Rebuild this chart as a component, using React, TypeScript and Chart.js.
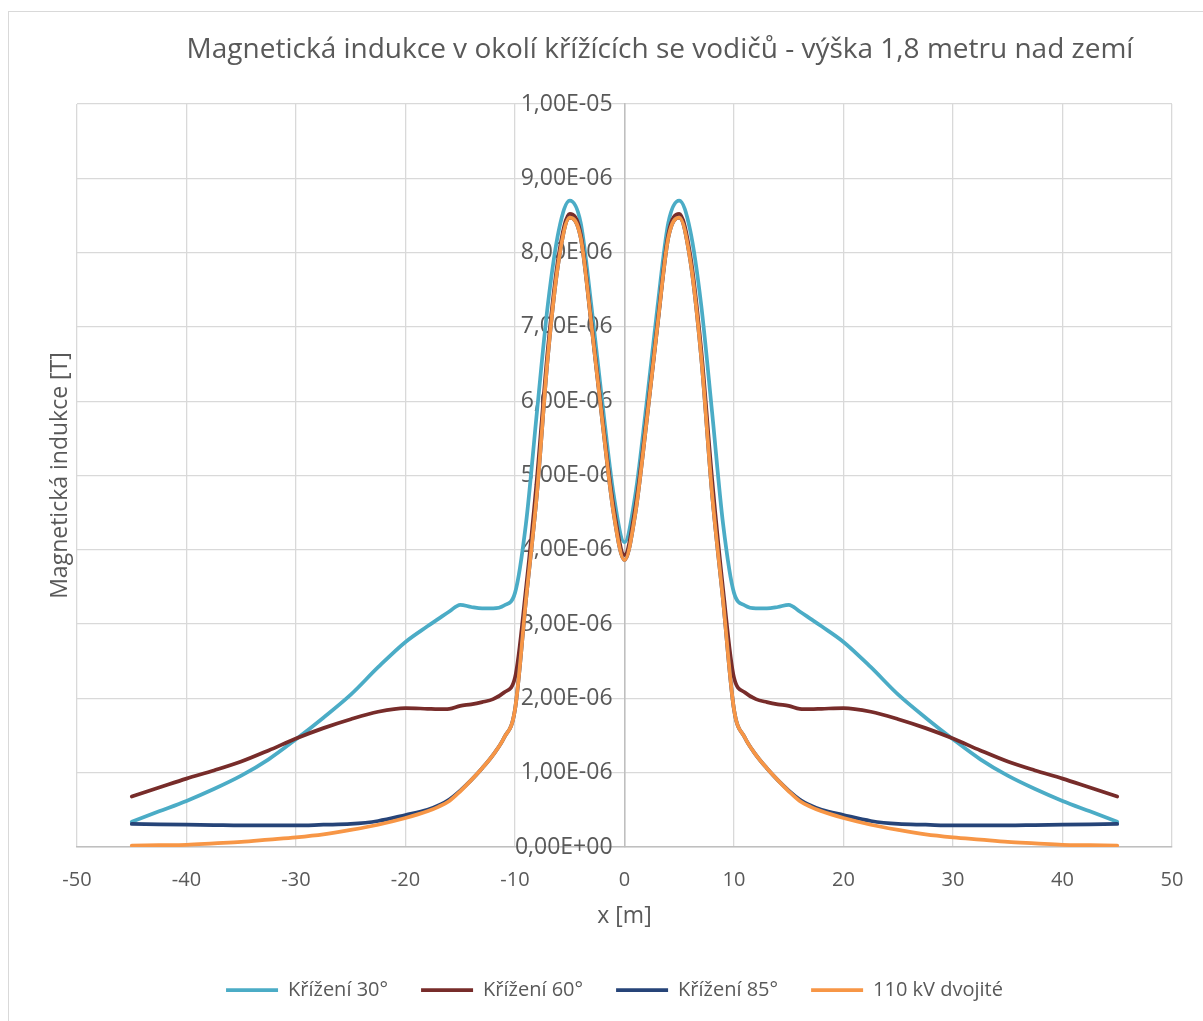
import { useEffect, useRef } from "react";
import { Chart, registerables } from "chart.js";

Chart.register(...registerables);

const TITLE = "Magnetická indukce v okolí křížících se vodičů - výška 1,8 metru nad zemí";
const X_TITLE = "x [m]";
const Y_TITLE = "Magnetická indukce [T]";
const SERIES = ["Křížení 30°", "Křížení 60°", "Křížení 85°", "110 kV dvojité"];
const COLORS = ["#4BACC6", "#772C2A", "#264478", "#F79646"];

// distance from the axis of the crossing [m]
const X_M = [
  -45, -42.5, -40, -37.5, -35, -32.5, -30, -27.5, -25, -22.5, -20, -18, -17, -16, -15, -14, -13, -12, -11, -10,
  -9, -8, -7, -6, -5, -4, -3, -2, -1, 0, 1, 2, 3, 4, 5, 6, 7, 8, 9,
  10, 11, 12, 13, 14, 15, 16, 17, 18, 20, 22.5, 25, 27.5, 30, 32.5, 35, 37.5, 40, 42.5, 45,
];

// magnetic flux density [µT]
const B_30 = [
  0.34, 0.48, 0.62, 0.78, 0.96, 1.18, 1.45, 1.74, 2.05, 2.42, 2.76, 2.97, 3.07, 3.17, 3.26, 3.23, 3.21, 3.21, 3.25, 3.42,
  4.35, 5.85, 7.3, 8.3, 8.7, 8.4, 7.25, 5.95, 4.75, 4.1, 4.75, 5.95, 7.25, 8.4, 8.7, 8.3, 7.3, 5.85, 4.35,
  3.42, 3.25, 3.21, 3.21, 3.23, 3.26, 3.17, 3.07, 2.97, 2.76, 2.42, 2.05, 1.74, 1.45, 1.18, 0.96, 0.78, 0.62, 0.48, 0.34,
];
const B_60 = [
  0.68, 0.8, 0.92, 1.03, 1.15, 1.3, 1.46, 1.6, 1.72, 1.82, 1.87, 1.86, 1.855, 1.86, 1.9, 1.92, 1.95, 1.99, 2.08, 2.28,
  3.47, 4.95, 6.7, 7.97, 8.52, 8.25, 7.03, 5.75, 4.58, 3.93, 4.58, 5.75, 7.03, 8.25, 8.52, 7.97, 6.7, 4.95, 3.47,
  2.28, 2.08, 1.99, 1.95, 1.92, 1.9, 1.86, 1.855, 1.86, 1.87, 1.82, 1.72, 1.6, 1.46, 1.3, 1.15, 1.03, 0.92, 0.8, 0.68,
];
const B_85 = [
  0.31, 0.305, 0.3, 0.295, 0.29, 0.29, 0.29, 0.3, 0.31, 0.35, 0.43, 0.5, 0.56, 0.64, 0.76, 0.9, 1.06, 1.24, 1.47, 1.85,
  3.32, 4.75, 6.6, 7.9, 8.47, 8.2, 7.0, 5.7, 4.5, 3.86, 4.5, 5.7, 7.0, 8.2, 8.47, 7.9, 6.6, 4.75, 3.32,
  1.85, 1.47, 1.24, 1.06, 0.9, 0.76, 0.64, 0.56, 0.5, 0.43, 0.35, 0.31, 0.3, 0.29, 0.29, 0.29, 0.295, 0.3, 0.305, 0.31,
];
const B_110 = [
  0.02, 0.025, 0.03, 0.05, 0.07, 0.1, 0.13, 0.17, 0.23, 0.3, 0.39, 0.48, 0.54, 0.62, 0.75, 0.9, 1.06, 1.24, 1.47, 1.85,
  3.32, 4.75, 6.6, 7.9, 8.47, 8.2, 7.0, 5.7, 4.5, 3.86, 4.5, 5.7, 7.0, 8.2, 8.47, 7.9, 6.6, 4.75, 3.32,
  1.85, 1.47, 1.24, 1.06, 0.9, 0.75, 0.62, 0.54, 0.48, 0.39, 0.3, 0.23, 0.17, 0.13, 0.1, 0.07, 0.05, 0.03, 0.025, 0.02,
];
const SERIES_VALUES = [B_30, B_60, B_85, B_110];

const MICRO = 1e-6;
const X_MIN = -50;
const X_MAX = 50;
const X_STEP = 10;
const Y_MIN = 0;
const Y_MAX = 10 * MICRO;
const Y_STEP = MICRO;

const FONT = "'Open Sans', 'DejaVu Sans', sans-serif";
const TEXT = "#595959";
const GRID = "#d9d9d9";
const AXIS = "#bfbfbf";

// Excel-style scientific notation with a decimal comma, e.g. 1,00E-05
const sci = (v: number) => {
  const [m, e] = v.toExponential(2).split("e");
  const n = parseInt(e, 10);
  return `${m.replace(".", ",")}E${n < 0 ? "-" : "+"}${String(Math.abs(n)).padStart(2, "0")}`;
};

// nudges the legend row so it sits where the sheet legend sits
const legendOffset = {
  id: "legendOffset",
  afterLayout(chart: any) {
    const lg = chart.legend;
    if (lg) {
      lg.left -= 10;
      lg.right -= 10;
    }
  },
};

export default function App() {
  const ref = useRef<HTMLCanvasElement | null>(null);

  useEffect(() => {
    if (!ref.current) return;
    const chart = new Chart(ref.current, {
      type: "line",
      data: {
        datasets: SERIES.map((label, i) => ({
          label,
          data: X_M.map((x, k) => ({ x, y: SERIES_VALUES[i][k] * MICRO })),
          borderColor: COLORS[i],
          backgroundColor: COLORS[i],
          borderWidth: 3.75,
          borderCapStyle: "round" as const,
          borderJoinStyle: "round" as const,
          pointRadius: 0,
          pointHoverRadius: 0,
          pointStyle: "line" as const,
          cubicInterpolationMode: "monotone" as const,
          fill: false,
          order: SERIES.length - i,
        })),
      },
      options: {
        animation: false,
        responsive: false,
        devicePixelRatio: 1,
        events: [],
        layout: { padding: { left: 0, right: 0, top: 0, bottom: 11 } },
        plugins: {
          title: {
            display: true,
            text: TITLE,
            color: TEXT,
            font: { family: FONT, size: 28, weight: "normal" },
            padding: { top: 21, bottom: 37.4 },
          },
          legend: {
            position: "bottom",
            fullSize: false,
            labels: {
              usePointStyle: true,
              pointStyleWidth: 52,
              padding: 33,
              color: TEXT,
              font: { family: FONT, size: 20 },
              sort: (a: any, b: any) => a.datasetIndex - b.datasetIndex,
            },
          },
          tooltip: { enabled: false },
        },
        scales: {
          x: {
            type: "linear",
            position: "bottom",
            min: X_MIN,
            max: X_MAX,
            ticks: { stepSize: X_STEP, padding: 21, color: TEXT, font: { family: FONT, size: 20 } },
            grid: { color: GRID, lineWidth: 1.3, drawTicks: false },
            border: { color: AXIS, width: 1.5 },
            title: {
              display: true,
              text: X_TITLE,
              color: TEXT,
              font: { family: FONT, size: 23 },
              padding: { top: 0, bottom: 17 },
            },
            afterFit: (s: any) => {
              s.height = 100;
            },
          },
          y: {
            type: "linear",
            position: { x: 0 },
            min: Y_MIN,
            max: Y_MAX,
            ticks: {
              stepSize: Y_STEP,
              color: TEXT,
              font: { family: FONT, size: 23 },
              // the trailing gap keeps the labels clear of the axis line
              callback: (v: any) => sci(Number(v)) + "  ",
            },
            grid: { color: GRID, lineWidth: 1.3, drawTicks: false },
            border: { color: AXIS, width: 1.5 },
          },
          yTitle: {
            type: "linear",
            position: "left",
            min: Y_MIN,
            max: Y_MAX,
            ticks: { display: false },
            grid: { display: false, drawTicks: false },
            border: { display: false },
            title: {
              display: true,
              text: Y_TITLE,
              color: TEXT,
              font: { family: FONT, size: 23 },
              padding: { top: 38, bottom: 2 },
            },
            afterFit: (s: any) => {
              s.width = 68;
            },
          },
          yRight: {
            type: "linear",
            position: "right",
            min: Y_MIN,
            max: Y_MAX,
            ticks: { display: false },
            grid: { display: false, drawTicks: false },
            border: { display: false },
            afterFit: (s: any) => {
              s.width = 139;
            },
          },
        },
      },
      plugins: [legendOffset],
    } as any);
    return () => chart.destroy();
  }, []);

  return (
    <div style={{ position: "fixed", inset: 0, overflow: "hidden", background: "#ffffff" }}>
      <div
        style={{
          position: "absolute",
          left: 8,
          top: 11,
          width: 1400,
          height: 1100,
          border: "1px solid #d9d9d9",
          boxSizing: "border-box",
        }}
      />
      <canvas
        ref={ref}
        width={1302}
        height={1009}
        style={{ position: "absolute", left: 9, top: 12, width: 1302, height: 1009 }}
      />
    </div>
  );
}
